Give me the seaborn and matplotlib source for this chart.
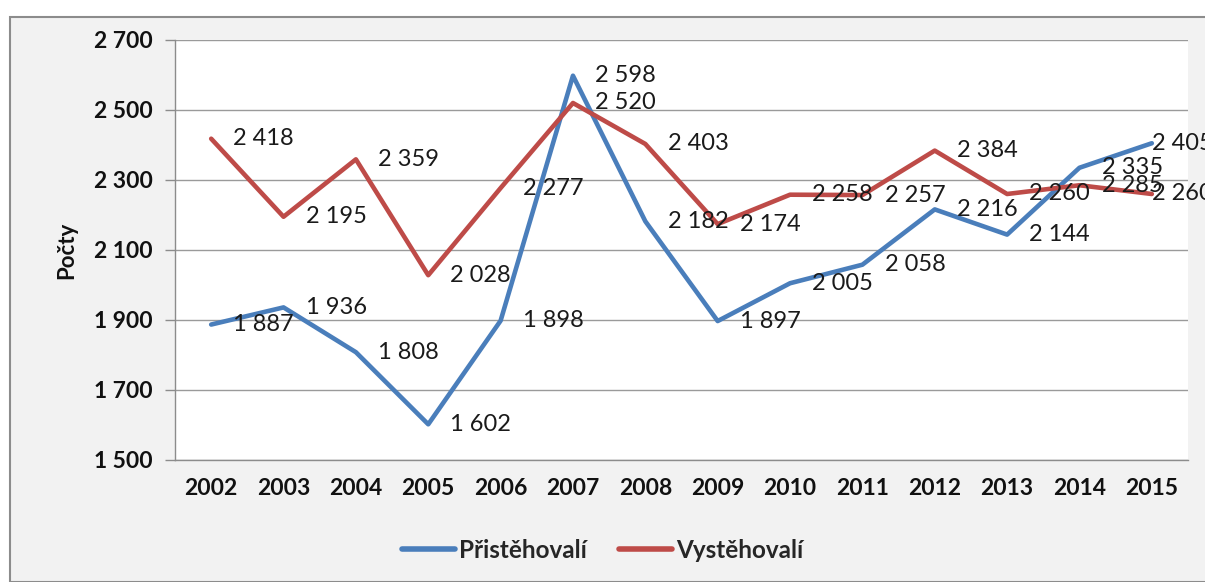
import matplotlib
matplotlib.use("Agg")
import matplotlib.pyplot as plt
import matplotlib.ticker as mticker
from matplotlib.patches import Rectangle
import seaborn as sns
import pandas as pd

years = ["2002", "2003", "2004", "2005", "2006", "2007", "2008",
         "2009", "2010", "2011", "2012", "2013", "2014", "2015"]
pristehovali = [1887, 1936, 1808, 1602, 1898, 2598, 2182,
                1897, 2005, 2058, 2216, 2144, 2335, 2405]
vystehovali = [2418, 2195, 2359, 2028, 2277, 2520, 2403,
               2174, 2258, 2257, 2384, 2260, 2285, 2260]
series_names = ["Přistěhovalí", "Vystěhovalí"]
y_ticks = [1500, 1700, 1900, 2100, 2300, 2500, 2700]

sns.set_theme(style="white")
plt.rcParams['font.family'] = ['Lato', 'DejaVu Sans']

df = pd.DataFrame({
    "Rok": years * 2,
    "Počty": pristehovali + vystehovali,
    "Řada": [series_names[0]] * len(years) + [series_names[1]] * len(years),
})

W, H = 1205, 582
fig = plt.figure(figsize=(W / 100, H / 100), dpi=100)
fig.patch.set_facecolor("white")
fig.patches.append(Rectangle((10 / W, 0), 1.0, 1 - 17 / H, transform=fig.transFigure,
                             facecolor="#f2f2f2", edgecolor="#8c8c8c", linewidth=1.5,
                             zorder=-10))

ax = fig.add_axes([175 / W, 1 - 460 / H, (1188 - 175) / W, (460 - 40) / H])
ax.set_facecolor("white")
ax.set_zorder(5)

palette = {series_names[0]: "#4a7ebb", series_names[1]: "#be4b48"}
sns.lineplot(data=df, x="Rok", y="Počty", hue="Řada", palette=palette,
             linewidth=3.3, ax=ax, sort=False, legend=True)

last = len(years) - 1
for vals in (pristehovali, vystehovali):
    for i, v in enumerate(vals):
        off = 0 if i == last else 16
        ax.annotate(f"{v:,}".replace(",", " "), xy=(i, v), xytext=(off, 0),
                    textcoords="offset points", ha="left", va="center",
                    fontsize=17, color="#1a1a1a", annotation_clip=False)

ax.set_xlim(-0.5, len(years) - 0.5)
ax.set_ylim(y_ticks[0], y_ticks[-1])
ax.set_yticks(y_ticks)
ax.yaxis.set_major_formatter(mticker.FuncFormatter(lambda v, p: f"{int(v):,}".replace(",", " ")))
ax.grid(axis="y", color="#9a9a9a", linewidth=1)
ax.set_axisbelow(True)

ax.set_xticks(range(len(years)))
ax.set_xticklabels(years)
ax.set_xticks([i - 0.5 for i in range(len(years) + 1)], minor=True)
ax.tick_params(axis="x", which="major", length=0, pad=13, labelsize=16.5)
ax.tick_params(axis="x", which="minor", length=6, width=1, color="#8c8c8c", direction="out")
ax.tick_params(axis="y", which="major", length=7, width=1, color="#8c8c8c", direction="out",
               left=True, pad=9, labelsize=16.5)
for lab in ax.get_xticklabels() + ax.get_yticklabels():
    lab.set_fontweight("bold")
    lab.set_color("#111111")

for s in ("top", "right"):
    ax.spines[s].set_visible(False)
for s in ("left", "bottom"):
    ax.spines[s].set_color("#8c8c8c")
    ax.spines[s].set_linewidth(1)

ax.set_xlabel("")
ax.set_ylabel("Počty", fontsize=16, fontweight="bold", labelpad=12, color="#111111")

handles, labels = ax.get_legend_handles_labels()
ax.legend(handles, labels, loc="center", bbox_to_anchor=(0.5, 32 / H),
          bbox_transform=fig.transFigure, ncol=2, frameon=False,
          prop={"size": 17.5, "weight": "bold"}, handlelength=2.2, handletextpad=0.15,
          columnspacing=1.3)
for line in ax.get_legend().get_lines():
    line.set_linewidth(4)

fig.savefig("out.png", dpi=100, facecolor=fig.get_facecolor())
